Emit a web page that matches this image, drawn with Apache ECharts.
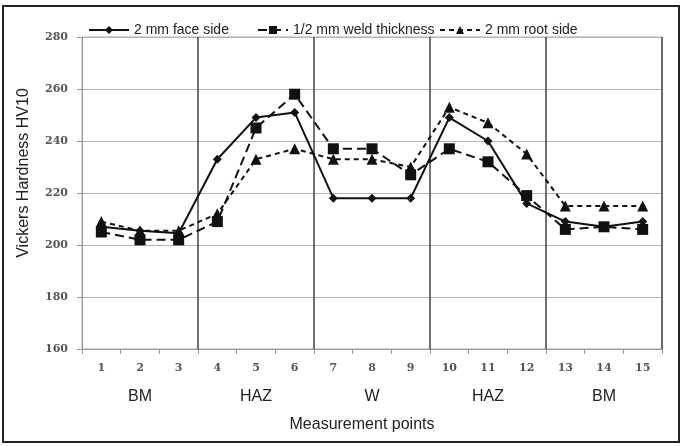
<!DOCTYPE html>
<html>
<head>
<meta charset="utf-8">
<script src="https://cdn.jsdelivr.net/npm/echarts@6/dist/echarts.min.js"></script>
<style>
  html, body { margin: 0; padding: 0; background: #fff; }
  #chart { width: 683px; height: 446px; }
</style>
</head>
<body>
<div id="chart"></div>
<script>
var points = ['1', '2', '3', '4', '5', '6', '7', '8', '9', '10', '11', '12', '13', '14', '15'];
var zones = ['BM', 'HAZ', 'W', 'HAZ', 'BM'];

var faceSide = [207, 205.5, 204.5, 233, 249, 251, 218, 218, 218, 249, 240, 216, 209, 207, 209];
var weldThickness = [205, 202, 202, 209, 245, 258, 237, 237, 227, 237, 232, 219, 206, 207, 206];
var rootSide = [209, 205.5, 205.5, 212, 233, 237, 233, 233, 230, 253, 247, 235, 215, 215, 215];

var chart = echarts.init(document.getElementById('chart'));

var legendText = { fontFamily: 'Arial, "Liberation Sans", sans-serif', fontSize: 14, color: '#222' };

var option = {
  animation: false,
  backgroundColor: '#fff',
  grid: {
    left: 82, right: 21, top: 37, bottom: 97,
    show: true, borderColor: '#aaa', borderWidth: 1
  },
  legend: [
    { data: ['2 mm face side'], left: 83, top: 18, itemWidth: 40, itemHeight: 10, textStyle: legendText },
    { data: ['1/2 mm weld thickness'], left: 252, top: 18, itemWidth: 30, itemHeight: 10, textStyle: legendText },
    { data: ['2 mm root side'], left: 434, top: 18, itemWidth: 40, itemHeight: 10, textStyle: legendText }
  ],
  graphic: [{
    type: 'rect',
    shape: { x: 3, y: 6, width: 676, height: 436 },
    style: { fill: 'none', stroke: '#222', lineWidth: 2 },
    silent: true
  }],
  xAxis: [{
    type: 'category',
    data: points,
    boundaryGap: true,
    axisLine: { lineStyle: { color: '#999', width: 1 } },
    axisTick: { show: true, length: 5, lineStyle: { color: '#999' } },
    axisLabel: {
      margin: 14,
      fontFamily: '"DejaVu Serif", serif', fontSize: 11, fontWeight: 'bold', color: '#555'
    },
    splitLine: {
      show: true,
      interval: function (index) { return index === 3 || index === 6 || index === 9 || index === 12; },
      lineStyle: { color: '#444', width: 1.5 }
    }
  }, {
    type: 'category',
    data: zones,
    position: 'bottom',
    offset: 32,
    axisLine: { show: false },
    axisTick: { show: false },
    splitLine: { show: false },
    axisLabel: {
      margin: 8,
      fontFamily: 'Arial, "Liberation Sans", sans-serif', fontSize: 16, color: '#222'
    },
    name: 'Measurement points',
    nameLocation: 'middle',
    nameGap: 36,
    nameTextStyle: { fontFamily: 'Arial, "Liberation Sans", sans-serif', fontSize: 16, color: '#222', padding: [0, 20, 0, 0] }
  }],
  yAxis: {
    type: 'value',
    min: 160, max: 280, interval: 20,
    axisLine: { show: true, lineStyle: { color: '#999' } },
    axisTick: { show: true, length: 5, lineStyle: { color: '#999' } },
    axisLabel: {
      margin: 14,
      fontFamily: '"DejaVu Serif", serif', fontSize: 11, fontWeight: 'bold', color: '#555'
    },
    splitLine: { lineStyle: { color: '#b5b5b5', width: 1 } },
    name: 'Vickers Hardness HV10',
    nameLocation: 'middle',
    nameGap: 50,
    nameTextStyle: {
      fontFamily: 'Arial, "Liberation Sans", sans-serif', fontSize: 16, color: '#222',
      padding: [0, 0, 0, 40]
    }
  },
  series: [{
    name: '2 mm face side',
    type: 'line',
    data: faceSide,
    symbol: 'diamond', symbolSize: 9,
    itemStyle: { color: '#111' },
    lineStyle: { color: '#111', width: 2, type: 'solid' }
  }, {
    name: '1/2 mm weld thickness',
    type: 'line',
    data: weldThickness,
    symbol: 'rect', symbolSize: 11,
    itemStyle: { color: '#111' },
    lineStyle: { color: '#111', width: 2, type: [9, 5] }
  }, {
    name: '2 mm root side',
    type: 'line',
    data: rootSide,
    symbol: 'triangle', symbolSize: 11,
    itemStyle: { color: '#111' },
    lineStyle: { color: '#111', width: 2, type: [5, 4] }
  }]
};

chart.setOption(option);
</script>
</body>
</html>
